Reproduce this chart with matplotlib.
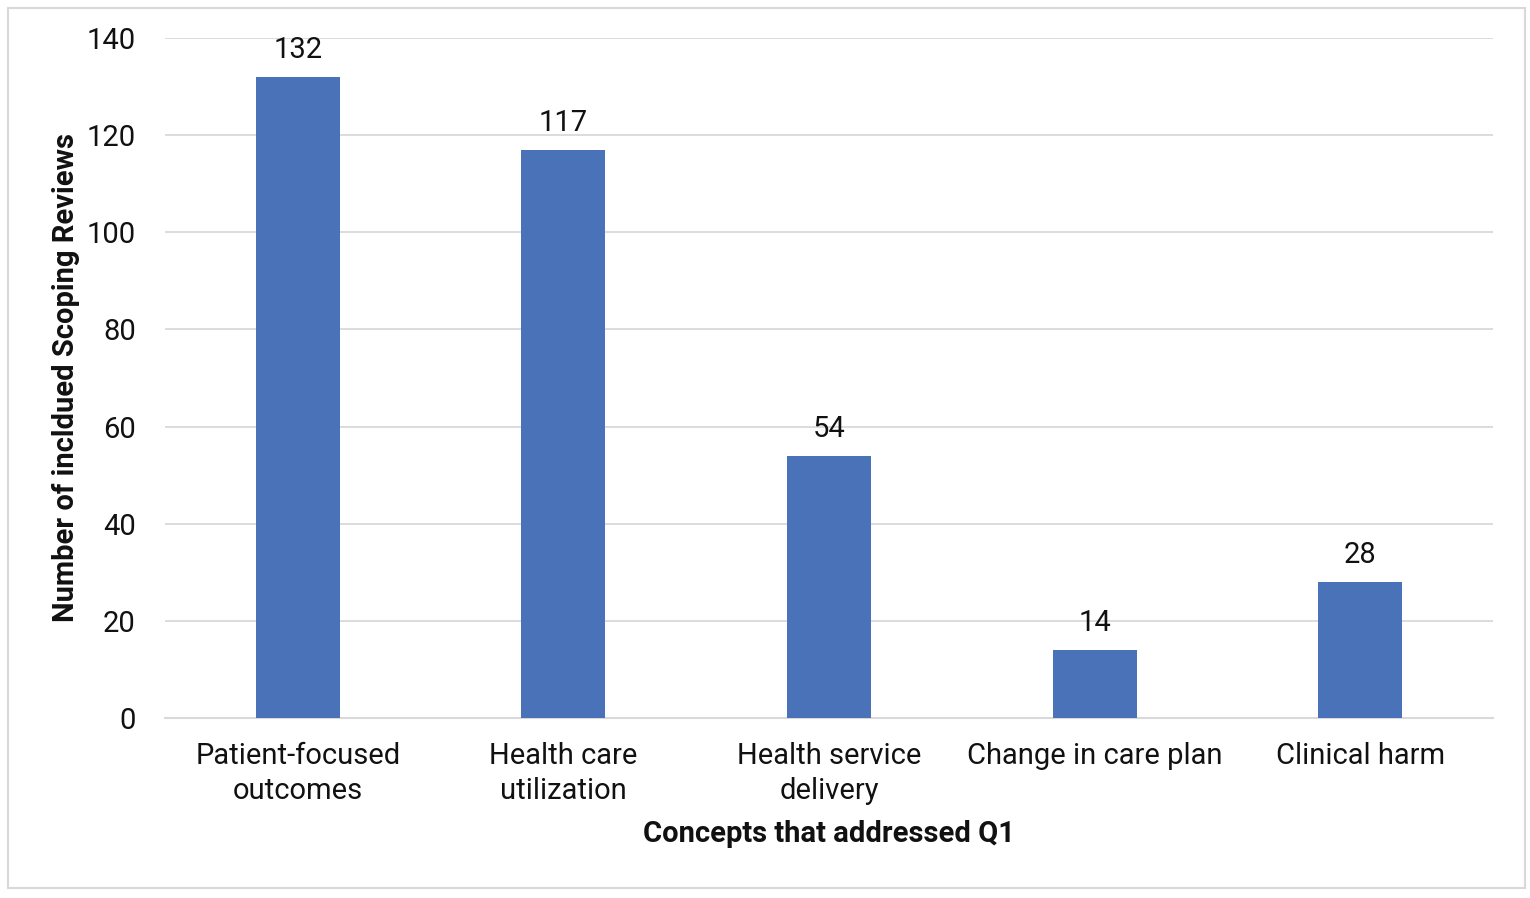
import matplotlib
matplotlib.use("Agg")
import matplotlib.pyplot as plt
from matplotlib.patches import Rectangle

# Data
concepts = [
    "Patient-focused\noutcomes",
    "Health care\nutilization",
    "Health service\ndelivery",
    "Change in care plan",
    "Clinical harm",
]
counts = [132, 117, 54, 14, 28]
y_ticks = [0, 20, 40, 60, 80, 100, 120, 140]

BAR_COLOR = "#4a72b8"
GRID_COLOR = "#d9d9d9"
FS = 21

plt.rcParams["font.family"] = ["Roboto", "DejaVu Sans"]

fig = plt.figure(figsize=(15.3, 8.98), dpi=100)
ax = fig.add_axes([165 / 1530, 1 - 718 / 898, 1328 / 1530, 680 / 898])

# outer chart border
fig.patches.append(Rectangle((8 / 1530, 1 - 888 / 898), 1517 / 1530, 880 / 898,
                             transform=fig.transFigure, fill=False,
                             edgecolor=GRID_COLOR, linewidth=1.5))

x = list(range(len(concepts)))
bars = ax.bar(x, counts, width=0.316, color=BAR_COLOR, zorder=3)

for b, v in zip(bars, counts):
    ax.text(b.get_x() + b.get_width() / 2, v + 2.6, str(v),
            ha="center", va="bottom", fontsize=FS, color="#111111")

ax.set_xlim(-0.5, len(concepts) - 0.5)
ax.set_ylim(0, 140)
ax.set_yticks(y_ticks)
ax.set_xticks(x)
ax.set_xticklabels(concepts, fontsize=FS, color="#111111", linespacing=1.33)
ax.tick_params(axis="y", labelsize=FS, labelcolor="#111111", length=0, pad=21)
ax.tick_params(axis="x", length=0, pad=17)

ax.grid(axis="y", color=GRID_COLOR, linewidth=1.3, zorder=0)
for s in ["top", "right", "left"]:
    ax.spines[s].set_visible(False)
ax.spines["bottom"].set_color(GRID_COLOR)
ax.spines["bottom"].set_linewidth(1.5)

ax.set_xlabel("Concepts that addressed Q1", fontsize=FS, fontweight="bold",
              color="#111111", labelpad=11)
ax.set_ylabel("Number of incldued Scoping Reviews", fontsize=FS,
              fontweight="bold", color="#111111", labelpad=5)

fig.savefig("out.png", dpi=100)
